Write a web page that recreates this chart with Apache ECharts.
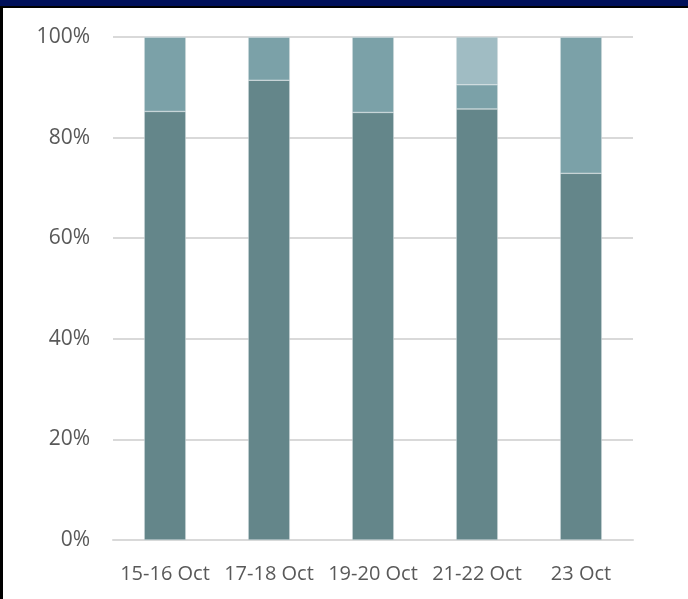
<!DOCTYPE html>
<html>
<head>
<meta charset="utf-8">
<script src="https://cdn.jsdelivr.net/npm/echarts@6/dist/echarts.min.js"></script>
<style>
html,body{margin:0;padding:0;background:#fff;}
#topband{position:absolute;left:0;top:0;width:688px;height:6px;background:#00105A;border-bottom:2px solid #000;}
#leftline{position:absolute;left:0;top:6px;width:3px;height:593px;background:#000;}
#chart{position:absolute;left:0;top:0;width:688px;height:599px;}
</style>
</head>
<body>
<div id="chart"></div>
<div id="topband"></div>
<div id="leftline"></div>
<script>
var categories = ['15-16 Oct', '17-18 Oct', '19-20 Oct', '21-22 Oct', '23 Oct'];
var darkValues = [85.2, 91.4, 85.0, 85.7, 72.9];
var midValues = [14.8, 8.6, 15.0, 4.8, 27.1];
var lightValues = [0, 0, 0, 9.5, 0];
var yTicks = [0, 20, 40, 60, 80, 100];

var chart = echarts.init(document.getElementById('chart'));
var font = '"Open Sans", Calibri, sans-serif';
chart.setOption({
  animation: false,
  grid: {left: 113, right: 55, top: 37, bottom: 59, containLabel: false},
  xAxis: {
    type: 'category',
    data: categories,
    axisLine: {show: true, lineStyle: {color: '#d9d9d9', width: 2}},
    axisTick: {show: false},
    axisLabel: {color: '#595959', fontSize: 20, fontFamily: font, margin: 24, interval: 0}
  },
  yAxis: {
    type: 'value',
    min: 0, max: 100, interval: 20,
    axisLine: {show: false},
    axisTick: {show: false},
    splitLine: {lineStyle: {color: '#d9d9d9', width: 2}},
    axisLabel: {color: '#595959', fontSize: 21, fontFamily: font, margin: 23,
      formatter: function (v) { return yTicks.indexOf(v) >= 0 ? v + '%' : ''; }}
  },
  series: [
    {type: 'bar', stack: 's', data: darkValues, barWidth: '40%',
      itemStyle: {color: '#64868A', borderColor: '#d4dfe1', borderWidth: 0.5}},
    {type: 'bar', stack: 's', data: midValues, barWidth: '40%',
      itemStyle: {color: '#7BA1A8', borderColor: '#d4dfe1', borderWidth: 0.5}},
    {type: 'bar', stack: 's', data: lightValues, barWidth: '40%',
      itemStyle: {color: '#A0BCC3', borderColor: '#d4dfe1', borderWidth: 0.5}}
  ]
});
</script>
</body>
</html>
